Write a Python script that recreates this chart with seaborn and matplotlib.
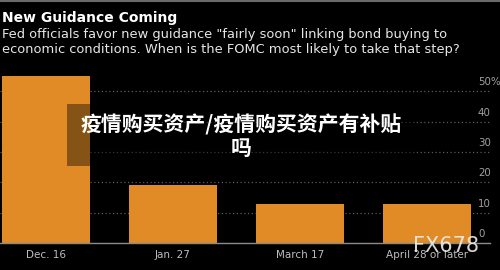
import matplotlib
matplotlib.use("Agg")
import matplotlib.pyplot as plt
import matplotlib.transforms as mtrans
from matplotlib.patches import Rectangle
from matplotlib.lines import Line2D
import seaborn as sns
import pandas as pd

# ---- data ----
categories = ["Dec. 16", "Jan. 27", "March 17", "April 28 or later"]
values = [55, 19, 13, 13]
ytick_values = [0, 10, 20, 30, 40, 50]
ytick_labels = ["0", "10", "20", "30", "40", "50%"]
title = "New Guidance Coming"
subtitle1 = 'Fed officials favor new guidance "fairly soon" linking bond buying to'
subtitle2 = "economic conditions. When is the FOMC most likely to take that step?"
overlay_line1 = "疫情购买资产/疫情购买资产有补贴"
overlay_line2 = "吗"
watermark = "FX678"

df = pd.DataFrame({"when": categories, "share": values})

sns.set_theme(style="dark")
plt.rcParams["font.family"] = ["DejaVu Sans"]

W, H = 500, 270
fig = plt.figure(figsize=(5, 2.7), dpi=100, facecolor="black")
ax = fig.add_axes([0, 27 / H, 490 / W, 173 / H])
ax.set_facecolor("black")

orange = "#E08B25"
sns.barplot(data=df, x="when", y="share", color=orange, saturation=1,
            width=88 / 127, ax=ax, zorder=2, edgecolor="none", linewidth=0)

ax.set_xlim(-46 / 127, (490 - 46) / 127)
ax.set_ylim(0, 57)
ax.set_xlabel("")
ax.set_ylabel("")

for s in ["left", "right", "top"]:
    ax.spines[s].set_visible(False)
ax.spines["bottom"].set_color("#8a8a8a")
ax.spines["bottom"].set_linewidth(1.0)
ax.spines["bottom"].set_zorder(3)

ax.yaxis.tick_right()
ax.set_yticks(ytick_values)
ax.set_yticklabels(ytick_labels)
ax.tick_params(axis="y", length=0, pad=-12 * 0.72, labelsize=7.4, labelcolor="#a0a0a0")
ax.tick_params(axis="x", length=0, pad=5, labelsize=7.5, labelcolor="#bdbdbd")
ax.yaxis.grid(True, linestyle=(0, (1, 2)), color="#5a5a5a", linewidth=0.9)
ax.xaxis.grid(False)
ax.set_axisbelow(True)

offset = mtrans.ScaledTranslation(0, 10 / 100, fig.dpi_scale_trans)
for lab in ax.get_yticklabels():
    lab.set_transform(lab.get_transform() + offset)
    lab.set_ha("left")

# titles
fig.text(2 / W, 1 - 22 / H, title, color="white", fontsize=10, fontweight="bold",
         va="baseline", ha="left")
fig.text(2 / W, 1 - 38 / H, subtitle1, color="#e6e6e6", fontsize=9.35,
         va="baseline", ha="left")
fig.text(2 / W, 1 - 53 / H, subtitle2, color="#e6e6e6", fontsize=9.35,
         va="baseline", ha="left")

# top border line
fig.add_artist(Line2D([0, 1], [1 - 0.5 / H, 1 - 0.5 / H], transform=fig.transFigure,
                      color="#6a6a6a", linewidth=1.5))

# overlay box + text
fig.add_artist(Rectangle((67 / W, 1 - 166 / H), (415 - 67) / W, 62 / H,
                         transform=fig.transFigure, facecolor="black", alpha=0.4,
                         edgecolor="none", zorder=5))
cjk = ["Noto Sans CJK SC", "DejaVu Sans"]
fig.text(241 / W, 1 - 125 / H, overlay_line1, color="white", fontsize=15,
         fontweight="heavy", family=cjk, ha="center", va="center", zorder=6)
fig.text(241 / W, 1 - 148 / H, overlay_line2, color="white", fontsize=15,
         fontweight="heavy", family=cjk, ha="center", va="center", zorder=6)

# watermark
fig.text(446 / W, 1 - 246 / H, watermark, color="#eeeeee", alpha=0.9, fontsize=15,
         ha="center", va="center", zorder=6)

fig.savefig("out.png", dpi=100, facecolor="black")
